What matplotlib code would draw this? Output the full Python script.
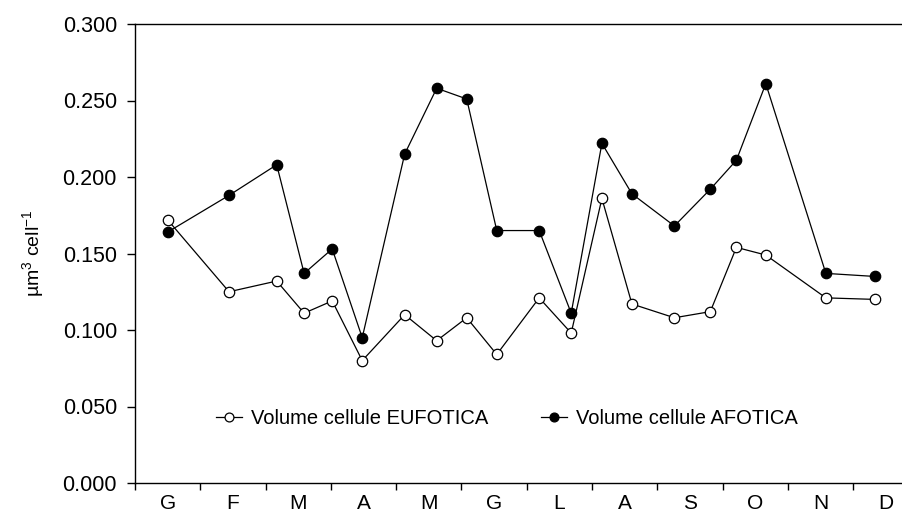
import matplotlib
matplotlib.use("Agg")
import matplotlib.pyplot as plt
from matplotlib.ticker import FormatStrFormatter, FixedLocator

plt.rcParams['font.family'] = ['Liberation Sans', 'DejaVu Sans']
plt.rcParams['mathtext.fontset'] = 'custom'
plt.rcParams['mathtext.rm'] = 'Liberation Sans'
plt.rcParams['mathtext.it'] = 'Liberation Sans:italic'

months = ['G', 'F', 'M', 'A', 'M', 'G', 'L', 'A', 'S', 'O', 'N', 'D']

# sampling time (in months from start of January)
time_m = [0.50, 1.44, 2.17, 2.59, 3.02, 3.48, 4.13, 4.62, 5.08, 5.54,
          6.19, 6.68, 7.15, 7.61, 8.26, 8.81, 9.21, 9.66, 10.58, 11.33]

eufotica = [0.172, 0.125, 0.132, 0.111, 0.119, 0.080, 0.110, 0.093, 0.108, 0.084,
            0.121, 0.098, 0.186, 0.117, 0.108, 0.112, 0.154, 0.149, 0.121, 0.120]

afotica = [0.164, 0.188, 0.208, 0.137, 0.153, 0.095, 0.215, 0.258, 0.251, 0.165,
           0.165, 0.111, 0.222, 0.189, 0.168, 0.192, 0.211, 0.261, 0.137, 0.135]

W, H = 903, 516
fig = plt.figure(figsize=(W / 100, H / 100), dpi=100)
left_px, right_px, top_px, bot_px = 135, 903, 24, 483
ax = fig.add_axes([left_px / W, (H - bot_px) / H,
                   (right_px - left_px) / W, (bot_px - top_px) / H])

ax.plot(time_m, eufotica, color='black', lw=0.9, marker='o', ms=7.5,
        mfc='white', mec='black', mew=0.9, label='Volume cellule EUFOTICA', zorder=3)
ax.plot(time_m, afotica, color='black', lw=0.9, marker='o', ms=7.5,
        mfc='black', mec='black', mew=0.9, label='Volume cellule AFOTICA', zorder=3)

px_per_month = 65.3
ax.set_xlim(0, (right_px - left_px) / px_per_month)
ax.set_ylim(0, 0.3)

ax.xaxis.set_major_locator(FixedLocator(list(range(12))))
ax.xaxis.set_minor_locator(FixedLocator([i + 0.5 for i in range(12)]))
ax.set_xticklabels([], minor=False)
ax.set_xticklabels(months, minor=True)
ax.tick_params(axis='x', which='major', direction='out', length=5, width=1)
ax.tick_params(axis='x', which='minor', length=0, pad=8, labelsize=15)

ax.set_yticks([0, 0.05, 0.1, 0.15, 0.2, 0.25, 0.3])
ax.yaxis.set_major_formatter(FormatStrFormatter('%.3f'))
ax.tick_params(axis='y', direction='out', length=6, width=1, labelsize=15.5, pad=7)

for s in ['left', 'bottom', 'top']:
    ax.spines[s].set_linewidth(1.0)
ax.spines['right'].set_visible(False)

ax.set_ylabel(r'µm$^{3}$ cell$^{-1}$', fontsize=14, labelpad=12)

ax.legend(loc='center left', bbox_to_anchor=((216 - left_px) / (right_px - left_px),
                                              (bot_px - 419) / (bot_px - top_px)),
          ncol=2, frameon=False, fontsize=14.5, handlelength=1.3, handletextpad=0.45,
          columnspacing=2.6, borderpad=0, borderaxespad=0, markerscale=0.85)

fig.savefig('out.png', dpi=100)
